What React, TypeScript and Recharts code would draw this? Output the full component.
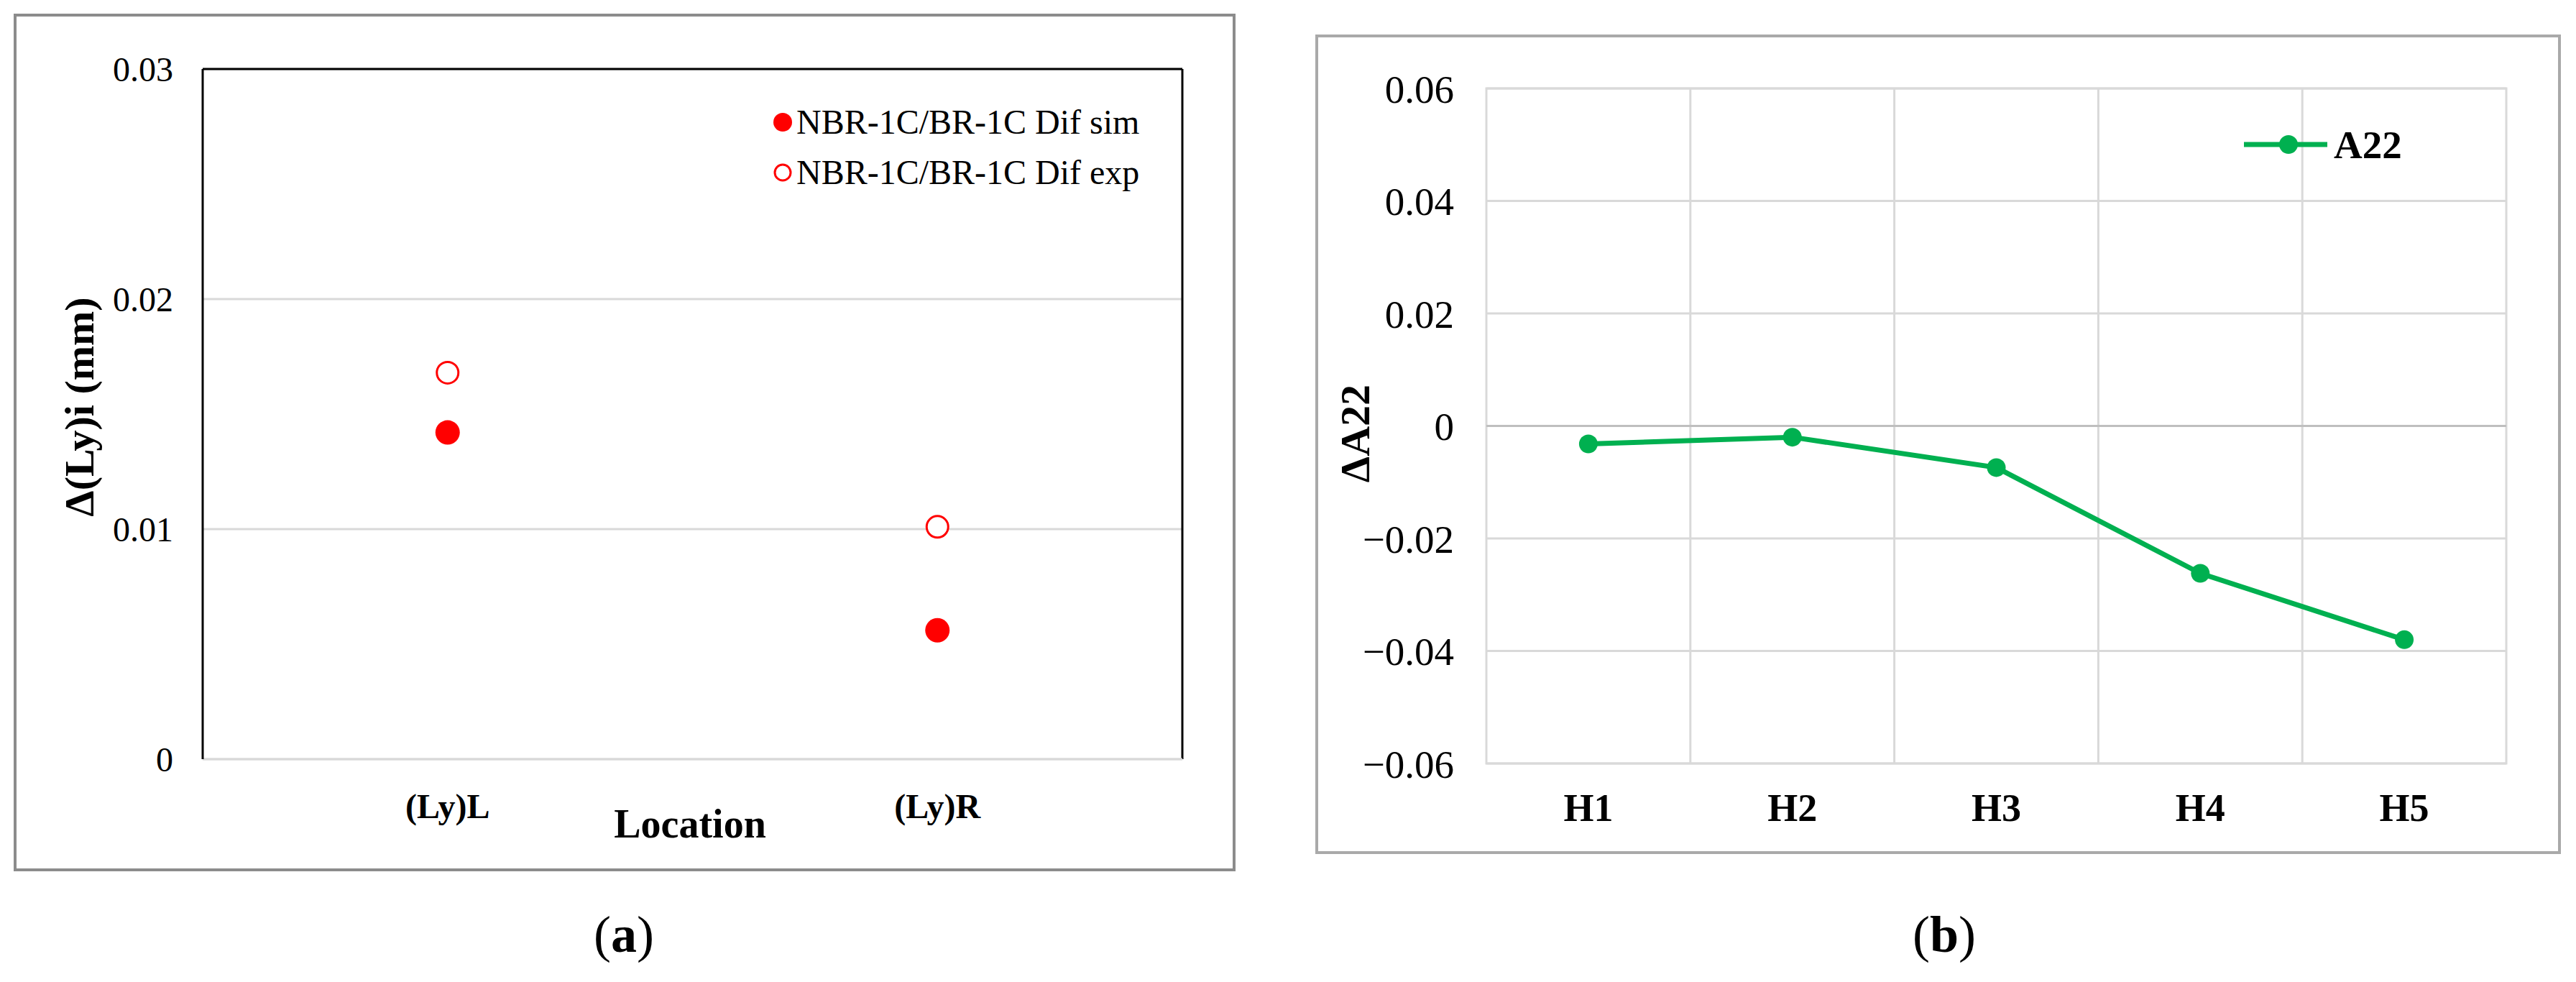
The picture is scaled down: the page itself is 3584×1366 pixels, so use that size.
import React from "react";
import {
  ScatterChart,
  Scatter,
  LineChart,
  Line,
  XAxis,
  YAxis,
  CartesianGrid,
  ReferenceLine,
  ReferenceArea,
} from "recharts";

const SERIF = '"Liberation Serif", "Times New Roman", serif';

// panel (a)
const locations = ["(Ly)L", "(Ly)R"];
const simDiff = [0.0142, 0.0056];
const expDiff = [0.0168, 0.0101];
const diffTicks = [0, 0.01, 0.02, 0.03];

// panel (b)
const holes = ["H1", "H2", "H3", "H4", "H5"];
const a22 = [-0.0032, -0.002, -0.0074, -0.0262, -0.038];
const a22Ticks = [-0.06, -0.04, -0.02, 0, 0.02, 0.04, 0.06];

const RED = "#ff0000";
const GREEN = "#00b050";
const GRID = "#d9d9d9";

const simPoints = locations.map((loc, i) => ({ x: i + 1, y: simDiff[i], loc }));
const expPoints = locations.map((loc, i) => ({ x: i + 1, y: expDiff[i], loc }));
const locTicks = locations.map((_, i) => i + 1);

const a22Points = holes.map((h, i) => ({ x: i + 1, y: a22[i], h }));
const holeTicks = holes.map((_, i) => i + 1);
// lines between the categories, like Excel draws them
const holeEdges = holes.slice(1).map((_, i) => i + 1.5);

const fmtLeft = (v: number) => (v === 0 ? "0" : v.toFixed(2));
const fmtRight = (v: number) =>
  v === 0 ? "0" : (v < 0 ? "\u2212" : "") + Math.abs(v).toFixed(2);

const filledDot = (p: any) => <circle cx={p.cx} cy={p.cy} r={17} fill={RED} />;
const hollowDot = (p: any) => (
  <circle cx={p.cx} cy={p.cy} r={15} fill="#fff" stroke={RED} strokeWidth={3} />
);

function AxisTitle({ x, y, text, rotate = 0, size = 58 }: any) {
  return (
    <div
      style={{
        position: "absolute",
        left: x,
        top: y,
        transform: `translate(-50%, -50%) rotate(${rotate}deg)`,
        whiteSpace: "nowrap",
        fontFamily: SERIF,
        fontWeight: 700,
        fontSize: size,
        lineHeight: 1,
        color: "#000",
      }}
    >
      {text}
    </div>
  );
}

function Caption({ x, y, letter }: any) {
  return (
    <div
      style={{
        position: "absolute",
        left: x,
        top: y,
        transform: "translate(-50%, -50%)",
        fontFamily: SERIF,
        fontSize: 72,
        lineHeight: 1,
        color: "#000",
      }}
    >
      (<b>{letter}</b>)
    </div>
  );
}

function LeftLegend() {
  const rows = [
    { label: "NBR-1C/BR-1C Dif sim", filled: true, y: 170 },
    { label: "NBR-1C/BR-1C Dif exp", filled: false, y: 240 },
  ];
  return (
    <>
      {rows.map((r) => (
        <div
          key={r.label}
          style={{
            position: "absolute",
            left: 1075,
            top: r.y - 24,
            height: 48,
            display: "flex",
            alignItems: "center",
            fontFamily: SERIF,
            fontSize: 48,
            lineHeight: 1,
            whiteSpace: "nowrap",
          }}
        >
          <svg width={30} height={30} style={{ marginRight: 3 }}>
            {r.filled ? (
              <circle cx={14} cy={15} r={13} fill={RED} />
            ) : (
              <circle cx={14} cy={15} r={11} fill="#fff" stroke={RED} strokeWidth={3} />
            )}
          </svg>
          {r.label}
        </div>
      ))}
    </>
  );
}

function RightLegend() {
  return (
    <div
      style={{
        position: "absolute",
        left: 3122,
        top: 201 - 28,
        height: 56,
        display: "flex",
        alignItems: "center",
        fontFamily: SERIF,
        fontWeight: 700,
        fontSize: 55,
        lineHeight: 1,
      }}
    >
      <svg width={116} height={30} style={{ marginRight: 9 }}>
        <line x1={0} y1={15} x2={116} y2={15} stroke={GREEN} strokeWidth={7} />
        <circle cx={62} cy={15} r={13} fill={GREEN} />
      </svg>
      A22
    </div>
  );
}

export default function App() {
  return (
    <div
      style={{
        position: "relative",
        width: 3584,
        height: 1366,
        background: "#fff",
        overflow: "hidden",
      }}
    >
      <style>{"body{margin:0}"}</style>

      {/* frames */}
      <div
        style={{
          position: "absolute",
          left: 19,
          top: 19,
          width: 1700,
          height: 1193,
          boxSizing: "border-box",
          border: "4px solid #8c8c8c",
        }}
      />
      <div
        style={{
          position: "absolute",
          left: 1830,
          top: 48,
          width: 1733,
          height: 1140,
          boxSizing: "border-box",
          border: "4px solid #a9a9a9",
        }}
      />

      {/* (a) */}
      <div style={{ position: "absolute", left: 0, top: 0 }}>
        <ScatterChart
          width={1760}
          height={1366}
          margin={{ top: 96, right: 115, bottom: 210, left: 182 }}
        >
          <CartesianGrid vertical={false} stroke={GRID} strokeWidth={3} />
          <XAxis
            type="number"
            dataKey="x"
            domain={[0.5, 2.5]}
            ticks={locTicks}
            tickFormatter={(v: number) => locations[v - 1]}
            height={100}
            axisLine={{ stroke: GRID, strokeWidth: 3 }}
            tickLine={false}
            tickSize={0}
            tickMargin={48}
            tick={{ fontSize: 48, fontWeight: 700, fill: "#000", fontFamily: SERIF }}
          />
          <YAxis
            type="number"
            dataKey="y"
            domain={[0, 0.03]}
            ticks={diffTicks}
            tickFormatter={fmtLeft}
            width={100}
            axisLine={{ stroke: "#000", strokeWidth: 3 }}
            tickLine={false}
            tickSize={0}
            tickMargin={41}
            tick={{ fontSize: 48, fill: "#000", fontFamily: SERIF }}
          />
          <ReferenceLine y={0.03} stroke="#000" strokeWidth={3} />
          <ReferenceLine x={2.5} stroke="#000" strokeWidth={3} />
          <Scatter data={expPoints} shape={hollowDot} isAnimationActive={false} />
          <Scatter data={simPoints} shape={filledDot} isAnimationActive={false} />
        </ScatterChart>
      </div>
      <LeftLegend />
      <AxisTitle x={111} y={566} text="Δ(Ly)i (mm)" rotate={-90} />
      <AxisTitle x={960} y={1146} text="Location" size={56} />
      <Caption x={868} y={1300} letter="a" />

      {/* (b) */}
      <div style={{ position: "absolute", left: 1800, top: 0 }}>
        <LineChart
          width={1784}
          height={1366}
          data={a22Points}
          margin={{ top: 123, right: 97, bottom: 204, left: 168 }}
        >
          <CartesianGrid vertical={false} stroke={GRID} strokeWidth={3} />
          {holeEdges.map((e) => (
            <ReferenceLine key={e} x={e} stroke={GRID} strokeWidth={3} />
          ))}
          <ReferenceArea
            x1={0.5}
            x2={5.5}
            y1={-0.06}
            y2={0.06}
            fill="none"
            fillOpacity={0}
            stroke={GRID}
            strokeWidth={3}
          />
          <ReferenceLine y={0} stroke="#bfbfbf" strokeWidth={3} />
          <XAxis
            type="number"
            dataKey="x"
            domain={[0.5, 5.5]}
            ticks={holeTicks}
            tickFormatter={(v: number) => holes[v - 1]}
            height={100}
            axisLine={false}
            tickLine={false}
            tickSize={0}
            tickMargin={42}
            tick={{ fontSize: 54, fontWeight: 700, fill: "#000", fontFamily: SERIF }}
          />
          <YAxis
            type="number"
            domain={[-0.06, 0.06]}
            ticks={a22Ticks}
            tickFormatter={fmtRight}
            width={100}
            axisLine={false}
            tickLine={false}
            tickSize={0}
            tickMargin={45}
            tick={{ fontSize: 55, fill: "#000", fontFamily: SERIF }}
          />
          <Line
            dataKey="y"
            stroke={GREEN}
            strokeWidth={7}
            dot={{ r: 13, fill: GREEN, stroke: "none" }}
            activeDot={false}
            isAnimationActive={false}
          />
        </LineChart>
      </div>
      <RightLegend />
      <AxisTitle x={1886} y={603} text="ΔA22" rotate={-90} />
      <Caption x={2705} y={1300} letter="b" />
    </div>
  );
}
